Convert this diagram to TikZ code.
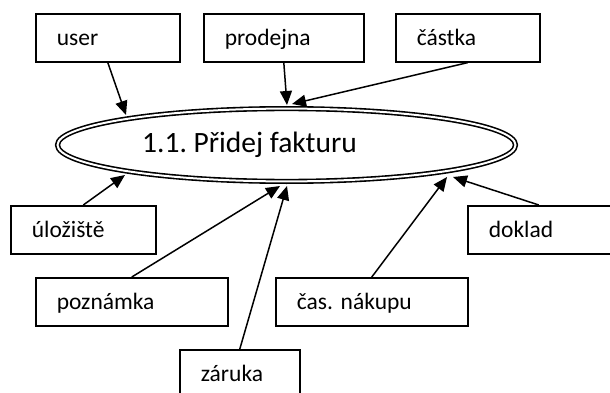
\documentclass[tikz,border=0pt]{standalone}
\usepackage{fontspec}
\setmainfont{Carlito}
\usetikzlibrary{arrows.meta,shapes.geometric,calc}
\begin{document}
\frenchspacing
\begin{tikzpicture}[x=1pt,y=-1pt,
  box/.style={draw, line width=1.6pt, inner xsep=21pt, inner ysep=0pt,
    minimum height=48pt, align=left, anchor=north west,
    text height=18pt, text depth=2pt, font=\fontsize{23.5}{27}\selectfont},
  proc/.style={ellipse, draw, line width=1.6pt, double, double distance=2pt,
    inner sep=0pt, outer sep=2.6pt, minimum width=458pt, minimum height=72.8pt,
    font=\fontsize{29.5}{34}\selectfont},
  arr/.style={line width=1.5pt, -{Triangle[length=14pt,width=12pt]}}]
\useasboundingbox (0,0) rectangle (610,393);
\clip (0,0) rectangle (610,393);
\fill[white] (0,0) rectangle (610,393);

\node[proc] (proc) at (286.5,145) {\hspace*{-74pt}1.1. Přidej fakturu};

\node[box, text width=102pt] (user) at (35,13) {user};
\node[box, text width=118pt] (prodejna) at (203,13) {prodejna};
\node[box, text width=102pt] (castka) at (395,13) {částka};
\node[box, text width=103pt] (ulo) at (10,205) {úložiště};
\node[box, text width=104pt] (doklad) at (467,205) {doklad};
\node[box, text width=150pt] (pozn) at (35,277) {poznámka};
\node[box, text width=150pt] (cas) at (275,277) {čas. nákupu};
\node[box, text width=78pt] (zaruka) at (179,349) {záruka};

\draw[arr] (user.south) -- ($(proc.center)+(-160.5,-30)$);
\draw[arr] (prodejna.south) -- ($(proc.center)+(0.5,-40)$);
\draw[arr] (castka.south) -- ($(proc.center)+(5.5,-41)$);
\draw[arr] (ulo.north) -- ($(proc.center)+(-161.5,30)$);
\draw[arr] (pozn.north) -- ($(proc.center)+(-6.5,41)$);
\draw[arr] (zaruka.north) -- ($(proc.center)+(0.5,41)$);
\draw[arr] (cas.north) -- ($(proc.center)+(160.5,32)$);
\draw[arr] ([xshift=-2pt]doklad.north) -- ($(proc.center)+(166.5,32)$);
\end{tikzpicture}
\end{document}
